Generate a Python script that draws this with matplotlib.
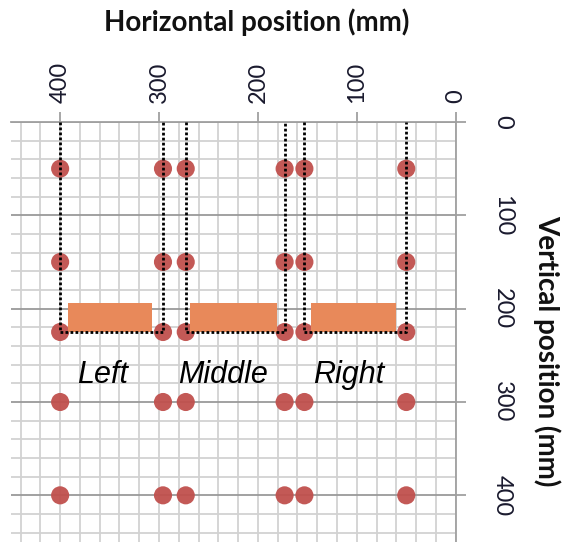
import matplotlib
matplotlib.use("Agg")
import matplotlib.pyplot as plt
from matplotlib.patches import Rectangle
from matplotlib.ticker import MultipleLocator

# ---- data ----
sensor_x = [400, 296, 273, 173, 153, 50]
sensor_y = [50, 150, 225, 300, 400]
zone_names = ["Left", "Middle", "Right"]
zone_edges = [(400, 296), (273, 173), (153, 50)]   # dotted outline x positions
zone_depth = 225                                    # dotted outline bottom
block_x = [(392, 307), (269, 181), (146, 60)]       # orange blocks x extents
block_y = (194, 225)
label_pos = [(357, 271), (235, 271), (108, 271)]
xticks = [0, 100, 200, 300, 400]
yticks = [0, 100, 200, 300, 400]

fig = plt.figure(figsize=(5.65, 5.42), dpi=100)
ax = fig.add_axes([10.7 / 565, 0.0, (455.7 - 10.7) / 565, 1 - 122 / 542])
ax.set_xlim(450, 0)
ax.set_ylim(450, 0)

# grid
ax.xaxis.set_major_locator(MultipleLocator(100))
ax.yaxis.set_major_locator(MultipleLocator(100))
ax.xaxis.set_minor_locator(MultipleLocator(20))
ax.yaxis.set_minor_locator(MultipleLocator(20))
ax.set_axisbelow(True)
ax.grid(which="minor", color="#D2D2D2", lw=1.3)
ax.grid(which="major", axis="x", color="#D2D2D2", lw=1.3)
ax.grid(which="major", axis="y", color="#9A9A9A", lw=1.3)

# axes styling
for s in ["left", "bottom"]:
    ax.spines[s].set_visible(False)
for s in ["top", "right"]:
    ax.spines[s].set_color("#A0A0A0")
    ax.spines[s].set_linewidth(1.3)
ax.xaxis.tick_top()
ax.yaxis.tick_right()
ax.set_xticks(xticks)
ax.set_yticks(yticks)
ax.tick_params(which="minor", length=0)
ax.tick_params(which="major", length=7, width=1.3, color="#A0A0A0")
ax.tick_params(axis="x", which="major", pad=6.5, labelsize=17, labelrotation=90)
ax.tick_params(axis="y", which="major", pad=19, labelsize=17, labelrotation=-90)
for lab in ax.get_xticklabels() + ax.get_yticklabels():
    lab.set_family("Lato")
    lab.set_color("#1A1A2E")
for lab in ax.get_yticklabels():
    lab.set_va("center")
    lab.set_ha("left")

# dots
for yv in sensor_y:
    ax.scatter(sensor_x, [yv] * len(sensor_x), s=170, color="#C0504D",
               edgecolors="none", alpha=0.95, zorder=3)

# orange blocks
for (x0, x1) in block_x:
    ax.add_patch(Rectangle((x1, block_y[0]), x0 - x1, block_y[1] - block_y[0],
                           facecolor="#E8895A", edgecolor="none", zorder=3.5))

# dotted outlines
for (xa, xb) in zone_edges:
    ax.plot([xa, xa, xb, xb], [0, zone_depth, zone_depth, 0], color="black",
            lw=2.0, linestyle=(0, (1, 0.8)), zorder=4, clip_on=False)

# zone labels
for name, (lx, ly) in zip(zone_names, label_pos):
    ax.text(lx, ly, name, fontsize=22, style="italic", family="Liberation Sans",
            ha="center", va="center", zorder=5)

# axis titles
fig.text(257 / 565, 1 - 30.7 / 542, "Horizontal position (mm)", family="Lato",
         weight="bold", fontsize=20, ha="center", va="baseline", color="#111111")
fig.text(547 / 565, 1 - 351 / 542, "Vertical position (mm)", family="Lato",
         weight="bold", fontsize=20, ha="center", va="center", rotation=-90,
         color="#111111")

fig.savefig("out.png", dpi=100)
